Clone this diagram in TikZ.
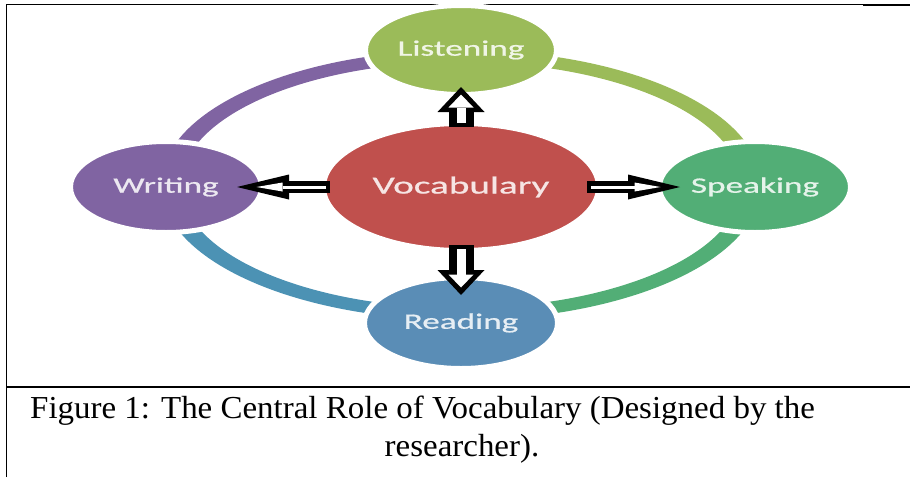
\documentclass[tikz,border=0pt]{standalone}
\usepackage{fontspec}
\usetikzlibrary{arrows.meta, shapes.geometric}
\newfontfamily\circfont[FakeStretch=1.6, FakeBold=0.8]{Carlito}
\newfontfamily\capfont[FakeStretch=1.03]{Liberation Serif}
\definecolor{lisgreen}{HTML}{9BBB59}
\definecolor{vocred}{HTML}{C0504D}
\definecolor{wripurple}{HTML}{8064A2}
\definecolor{spkgreen}{HTML}{52AE76}
\definecolor{readblue}{HTML}{5A8DB6}
\definecolor{ringblue}{HTML}{4C92B4}

\begin{document}
\begin{tikzpicture}[
    x=1pt, y=1pt,
    circ/.style={ellipse, fill=#1, draw=white, line width=5pt, text=white!85!#1,
                 inner sep=0pt, outer sep=0pt, font=\circfont\fontsize{22}{26}\selectfont},
    hout/.style={line width=12pt, -{Triangle[length=52pt, width=25pt, line width=0pt]}},
    hin/.style={white, line width=3pt, -{Triangle[length=26pt, width=9pt, line width=0pt]}},
    vout/.style={line width=25pt, -{Triangle[length=25pt, width=47pt, line width=0pt]}},
    vin/.style={white, line width=9pt, -{Triangle[length=13pt, width=25pt, line width=0pt]}},
    capt/.style={inner sep=0pt, font=\capfont\fontsize{32}{38}\selectfont}
]
\useasboundingbox (0,0) rectangle (910,-477);

% frame of the table cell
\draw[line width=1.5pt] (6.5,-477) -- (6.5,-4.5) -- (55,-4.5);
\draw[line width=1pt] (55,-4.8) -- (863,-4.8);
\draw[line width=1.7pt] (863,-4.8) -- (910,-4.8);
\draw[line width=2pt] (6.5,-386.5) -- (910,-386.5);

% ring
\fill[wripurple] (461,-50) arc[start angle=90, end angle=180, x radius=300, y radius=135]
    -- ++(20,0) arc[start angle=180, end angle=90, x radius=280, y radius=123] -- cycle;
\fill[lisgreen] (761,-185) arc[start angle=0, end angle=90, x radius=300, y radius=135]
    -- ++(0,-12) arc[start angle=90, end angle=0, x radius=280, y radius=123] -- cycle;
\fill[spkgreen] (461,-320) arc[start angle=-90, end angle=0, x radius=300, y radius=135]
    -- ++(-20,0) arc[start angle=0, end angle=-90, x radius=280, y radius=123] -- cycle;
\fill[ringblue] (161,-185) arc[start angle=180, end angle=270, x radius=300, y radius=135]
    -- ++(0,12) arc[start angle=270, end angle=180, x radius=280, y radius=123] -- cycle;

\node[circ=lisgreen, minimum width=191pt, minimum height=89pt] (lis) at (461,-50) {Listening};
\node[circ=wripurple, minimum width=191pt, minimum height=91pt] (wri) at (166,-187) {Writing};
\node[circ=spkgreen, minimum width=191pt, minimum height=91pt] (spk) at (755,-187) {Speaking};
\node[circ=readblue, minimum width=193pt, minimum height=91pt] (rea) at (461,-323) {Reading};
\node[circ=vocred, minimum width=275pt, minimum height=127pt,
      font=\circfont\fontsize{24.5}{28}\selectfont] (voc) at (461,-187) {Vocabulary};

\draw[vout, shorten <=-3.5pt, shorten >=-7.5pt] (voc.north) -- (lis.south);
\draw[vin, shorten <=0.5pt, shorten >=0pt] (voc.north) -- (lis.south);
\draw[vout, shorten <=-5.5pt, shorten >=-17.5pt] (voc.south) -- (rea.north);
\draw[vin, shorten <=-1.5pt, shorten >=-10pt] (voc.south) -- (rea.north);
\draw[hout, shorten <=-6.5pt, shorten >=-24.5pt] (voc.west) -- (wri.east);
\draw[hin, shorten <=-2.5pt, shorten >=-5pt] (voc.west) -- (wri.east);
\draw[hout, shorten <=-11.5pt, shorten >=-20.5pt] (voc.east) -- (spk.west);
\draw[hin, shorten <=-7.5pt, shorten >=-1pt] (voc.east) -- (spk.west);

\node[capt, anchor=base west] (cap1) at (30,-418) {Figure 1: The Central Role of Vocabulary (Designed by the};
\node[capt, anchor=base] (cap2) at (462,-456) {researcher).};
\end{tikzpicture}
\end{document}
